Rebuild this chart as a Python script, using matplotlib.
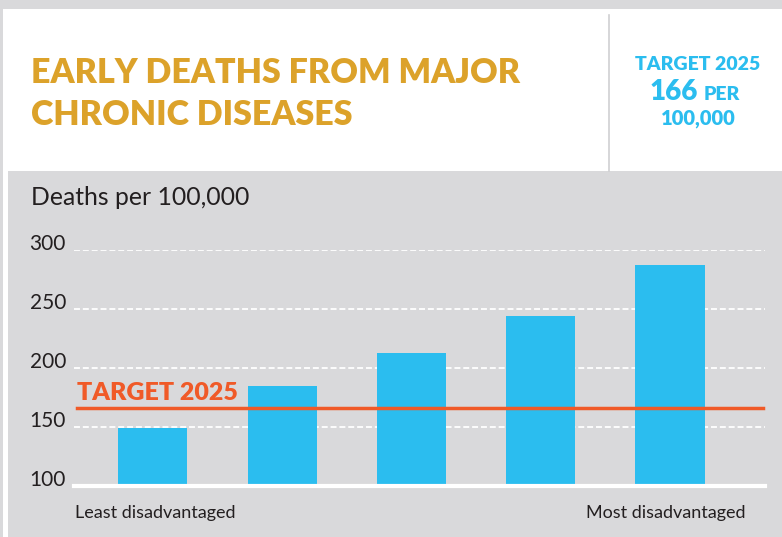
import matplotlib
matplotlib.use("Agg")
import matplotlib.pyplot as plt
from matplotlib.patches import Rectangle
from matplotlib.transforms import blended_transform_factory

W, H = 782, 537

# data
groups = ["Least disadvantaged", "", "", "", "Most disadvantaged"]
deaths = [149, 185, 213, 244, 287]
target = 166
yticks = [100, 150, 200, 250, 300]

gray = "#d9d9db"
blue = "#2bbdef"
orange = "#f05a28"
gold = "#dca22a"
dark = "#231f20"
font = "Lato"


def fx(x):
    return x / W


def fy(y):
    return 1 - y / H


fig = plt.figure(figsize=(W / 100, H / 100), dpi=100, facecolor=gray)

# white header panel and left strip
fig.add_artist(Rectangle((fx(3), fy(171)), fx(779), 162 / H, transform=fig.transFigure,
                         facecolor="white", edgecolor="none", zorder=0))
fig.add_artist(Rectangle((fx(3), 0), fx(5), fy(171), transform=fig.transFigure,
                         facecolor="white", edgecolor="none", zorder=0))
fig.add_artist(plt.Line2D([fx(609), fx(609)], [fy(15), fy(171)], transform=fig.transFigure,
                          color="#d0d0d2", lw=1.2))

# header texts
fig.text(fx(31), fy(83), "EARLY DEATHS FROM MAJOR", fontsize=24.5, fontweight="heavy",
         color=gold, family=font, va="baseline")
fig.text(fx(31), fy(125), "CHRONIC DISEASES", fontsize=24.5, fontweight="heavy",
         color=gold, family=font, va="baseline")
fig.text(fx(698), fy(70), "TARGET 2025", fontsize=14, fontweight="heavy",
         color=blue, family=font, va="baseline", ha="center")
fig.text(fx(698), fy(100), "166", fontsize=20, fontweight="heavy",
         color=blue, family=font, va="baseline", ha="right")
fig.text(fx(704), fy(100), "PER", fontsize=14, fontweight="heavy",
         color=blue, family=font, va="baseline", ha="left")
fig.text(fx(698), fy(125), "100,000", fontsize=14.5, fontweight="heavy",
         color=blue, family=font, va="baseline", ha="center")

fig.text(fx(31), fy(205), "Deaths per 100,000", fontsize=17.8, color=dark,
         family=font, va="baseline")

# chart axes
left, right, base, top = 74, 765, 486, 250
ax = fig.add_axes([fx(left), fy(base), (right - left) / W, (base - top) / H])
ax.set_facecolor("none")
x = list(range(len(deaths)))
ax.bar(x, [d - 100 for d in deaths], bottom=100, width=0.534, color=blue, zorder=2)
ax.set_xlim(-0.611, 4.735)
ax.set_ylim(100, 300)

for t in yticks[1:]:
    ax.axhline(t, color="white", lw=1.3, ls=(0, (3.3, 1.6)), zorder=1)
ax.axhline(100, color="white", lw=3, zorder=3, clip_on=False)
ax.plot([-0.588, 4.72], [target, target], color=orange, lw=2.5, zorder=4, clip_on=False)
ax.text(-0.588, target + 6.5, "TARGET 2025", fontsize=18, fontweight="heavy",
        color=orange, family=font, va="baseline", zorder=5)

trans = blended_transform_factory(fig.transFigure, ax.transData)
for t in yticks:
    ax.text(fx(66), t, str(t), transform=trans, fontsize=15, color=dark,
            family=font, ha="right", va="baseline")

fig.text(fx(75), fy(518), groups[0], fontsize=13, color=dark, family=font, va="baseline")
fig.text(fx(745), fy(518), groups[-1], fontsize=13, color=dark, family=font,
         va="baseline", ha="right")

for s in ax.spines.values():
    s.set_visible(False)
ax.set_xticks([])
ax.set_yticks([])

fig.savefig("out.png", dpi=100, facecolor=gray)
